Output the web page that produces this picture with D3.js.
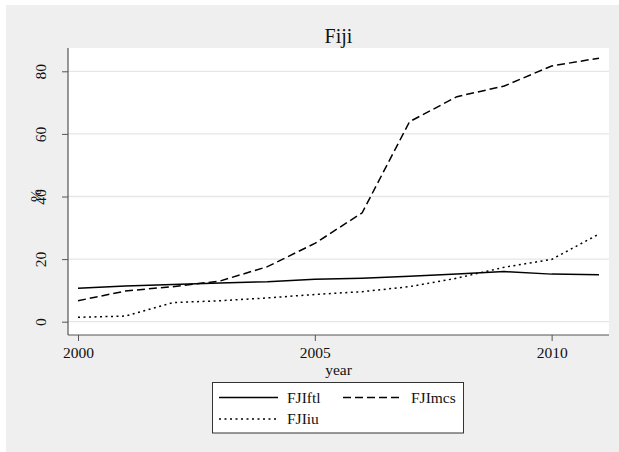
<!DOCTYPE html>
<html><head><meta charset="utf-8">
<script src="https://cdn.jsdelivr.net/npm/d3@7"></script>
<style>body{margin:0;background:#fff}svg{display:block}svg text{font-family:"Liberation Serif","Times New Roman",serif !important;fill:#111}</style>
</head><body>
<svg id="c" width="619" height="452"></svg>
<script>
const years = [2000,2001,2002,2003,2004,2005,2006,2007,2008,2009,2010,2011];
const FJIftl = [10.7,11.4,11.9,12.4,12.8,13.6,13.9,14.5,15.2,16.0,15.2,15.0];
const FJImcs = [6.7,9.8,11.2,13.0,17.6,25.0,34.8,63.9,71.9,75.3,81.7,84.2];
const FJIiu  = [1.4,1.8,6.1,6.7,7.6,8.7,9.6,11.2,13.9,17.4,19.9,28.0];
const yTicks = [0,20,40,60,80];
const xTicks = [2000,2005,2010];
const seriesNames = ["FJIftl","FJImcs","FJIiu"];
const title = "Fiji", xTitle = "year", yTitle = "%";
const SERIF = '"Liberation Serif","Times New Roman",serif';

const svg = d3.select("#c");
svg.append("rect").attr("x",6).attr("y",5).attr("width",613).attr("height",447).attr("fill","#efefef");
const L=68, R=609, T=48, B=335;
svg.append("rect").attr("x",L).attr("y",T).attr("width",R-L).attr("height",B-T).attr("fill","#fff");

const x = d3.scaleLinear().domain([2000,2011]).range([78,599]);
const y = d3.scaleLinear().domain([0,80]).range([321.7,71.3]);

svg.append("g").selectAll("line").data(yTicks).join("line")
  .attr("x1",L).attr("x2",R).attr("y1",d=>y(d)).attr("y2",d=>y(d))
  .attr("stroke","#e6e6e6").attr("stroke-width",1.3);

const ya = svg.append("g").attr("transform",`translate(${L},0)`)
  .call(d3.axisLeft(y).tickValues(yTicks).tickSize(6).tickPadding(0).tickFormat(d3.format("d")));
ya.attr("font-family",SERIF);
ya.select(".domain").attr("d",`M0,${T}V${B}`).attr("stroke","#555").attr("stroke-width",1.2);
ya.selectAll(".tick line").attr("stroke","#555");
ya.selectAll(".tick text").remove();
ya.selectAll(".tick").append("text").attr("transform","translate(-27,0) rotate(-90)")
  .attr("text-anchor","middle").attr("dy","0.35em").style("font-size","15.5px").style("font-family",SERIF).text(d=>d);

const xa = svg.append("g").attr("transform",`translate(0,${B})`)
  .call(d3.axisBottom(x).tickValues(xTicks).tickSize(6).tickFormat(d3.format("d")));
xa.attr("font-family",SERIF);
xa.select(".domain").attr("d",`M${L},0H${R}`).attr("stroke","#555").attr("stroke-width",1.2);
xa.selectAll(".tick line").attr("stroke","#555");
xa.selectAll(".tick text").attr("y",12).attr("dy","0.71em").style("font-size","15.5px").style("font-family",SERIF);

svg.append("text").attr("x",(L+R)/2).attr("y",375).attr("text-anchor","middle").style("font-size","15.5px").style("font-family",SERIF).text(xTitle);
svg.append("text").attr("transform",`translate(41,${(T+B)/2+4}) rotate(-90)`).attr("text-anchor","middle").style("font-size","15.5px").style("font-family",SERIF).text(yTitle);
svg.append("text").attr("x",(L+R)/2).attr("y",43).attr("text-anchor","middle").style("font-size","20px").style("font-family",SERIF).text(title);

const styles = {FJIftl:null, FJImcs:"8,4", FJIiu:"2,3.5"};
const dataMap = {FJIftl, FJImcs, FJIiu};
const line = d3.line().x((d,i)=>x(years[i])).y(d=>y(d));
seriesNames.forEach(n=>{
  svg.append("path").attr("d",line(dataMap[n])).attr("fill","none").attr("stroke","#000")
    .attr("stroke-width",1.5).attr("stroke-dasharray",styles[n]);
});

const lg = svg.append("g");
lg.append("rect").attr("x",212.5).attr("y",382.5).attr("width",251).attr("height",50.5).attr("fill","#fff").attr("stroke","#333").attr("stroke-width",1);
const items = [{n:"FJIftl",x:219,y:397.5},{n:"FJImcs",x:343,y:397.5},{n:"FJIiu",x:219,y:419}];
items.forEach(it=>{
  lg.append("line").attr("x1",it.x).attr("x2",it.x+59).attr("y1",it.y).attr("y2",it.y)
    .attr("stroke","#000").attr("stroke-width",1.5).attr("stroke-dasharray",styles[it.n]);
  lg.append("text").attr("x",it.x+68).attr("y",it.y).attr("dy","0.35em").style("font-size","15.5px").style("font-family",SERIF).text(it.n);
});
</script>
</body></html>
